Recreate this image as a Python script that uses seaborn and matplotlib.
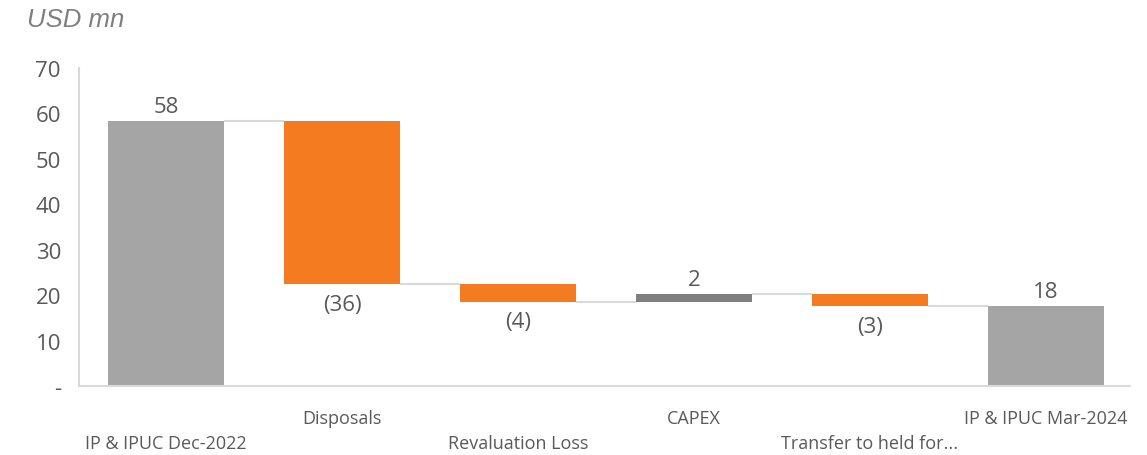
import matplotlib
matplotlib.use("Agg")
import matplotlib.pyplot as plt
import matplotlib.transforms as mtransforms
import seaborn as sns
import pandas as pd
import numpy as np

# Waterfall of investment property value, USD mn
categories = ["IP & IPUC Dec-2022", "Disposals", "Revaluation Loss", "CAPEX",
              "Transfer to held for...", "IP & IPUC Mar-2024"]
changes = [58.4, -36.0, -3.8, 1.6, -2.6, 17.6]
kinds = ["total", "change", "change", "change", "change", "total"]
y_ticks = [0, 10, 20, 30, 40, 50, 60, 70]
y_tick_labels = ["-", "10", "20", "30", "40", "50", "60", "70"]

GREY = "#A5A5A5"
ORANGE = "#F47B20"
DARK = "#7F7F7F"
TEXT = "#595959"
LINE = "#D9D9D9"

# running levels: bottom and top of each floating bar
bottoms, tops, ends = [], [], []
level = 0.0
for v, k in zip(changes, kinds):
    if k == "total":
        bottoms.append(0.0)
        tops.append(v)
        level = v
    else:
        new = level + v
        bottoms.append(min(level, new))
        tops.append(max(level, new))
        level = new
    ends.append(level)

colors = []
for v, k in zip(changes, kinds):
    if k == "total":
        colors.append(GREY)
    elif v < 0:
        colors.append(ORANGE)
    else:
        colors.append(DARK)

df = pd.DataFrame({
    "category": categories,
    "height": np.array(tops) - np.array(bottoms),
    "bottom": bottoms,
})

sns.set_theme(style="white")
plt.rcParams["font.family"] = ["Open Sans", "DejaVu Sans"]

fig = plt.figure(figsize=(11.47, 4.56), dpi=100)
ax = fig.add_axes([79 / 1147, 1 - 387 / 456, (1130 - 79) / 1147, (387 - 69) / 456])

sns.barplot(data=df, x="category", y="height", order=categories,
            bottom=df["bottom"].values, color=GREY, width=0.66,
            saturation=1, ax=ax, linewidth=0, errorbar=None)
for patch, c in zip(ax.patches, colors):
    patch.set_facecolor(c)

ax.set_xlim(-0.494, 5.477)
ax.set_ylim(0, 70)
ax.set_yticks(y_ticks)
ax.set_yticklabels(y_tick_labels, fontsize=16, color=TEXT)
ax.tick_params(axis="y", length=0, pad=13)
ax.set_xticks(range(len(categories)))
ax.set_xticklabels([""] * len(categories))
ax.tick_params(axis="x", length=0)
ax.set_xlabel("")
ax.set_ylabel("")

for side in ["top", "right"]:
    ax.spines[side].set_visible(False)
for side in ["left", "bottom"]:
    ax.spines[side].set_color(LINE)
    ax.spines[side].set_linewidth(1.5)

# connectors between consecutive bars
half = 0.33
for i in range(len(categories) - 1):
    ax.plot([i + half, i + 1 - half], [ends[i], ends[i]], color=LINE, lw=1.5,
            solid_capstyle="butt", zorder=1)

# value labels
for i, (v, k) in enumerate(zip(changes, kinds)):
    txt = f"{abs(v):.0f}"
    if v < 0:
        ax.annotate(f"({txt})", (i, bottoms[i]), xytext=(0, -7), textcoords="offset points",
                    ha="center", va="top", fontsize=16, color=TEXT)
    else:
        ax.annotate(txt, (i, tops[i]), xytext=(0, 3), textcoords="offset points",
                    ha="center", va="bottom", fontsize=16, color=TEXT)

# staggered category labels
trans = mtransforms.blended_transform_factory(ax.transData, fig.transFigure)
for i, name in enumerate(categories):
    y_px = 444 if i % 2 == 0 else 419
    ax.text(i, 1 - y_px / 456, name, transform=trans, ha="center", va="center",
            fontsize=13, color=TEXT)

fig.text(27 / 1147, 1 - 20 / 456, "USD mn", fontsize=18.5, style="italic",
         color="#7F7F7F", family=["Liberation Sans", "DejaVu Sans"],
         ha="left", va="center")

fig.savefig("out.png", dpi=100, facecolor="white")
